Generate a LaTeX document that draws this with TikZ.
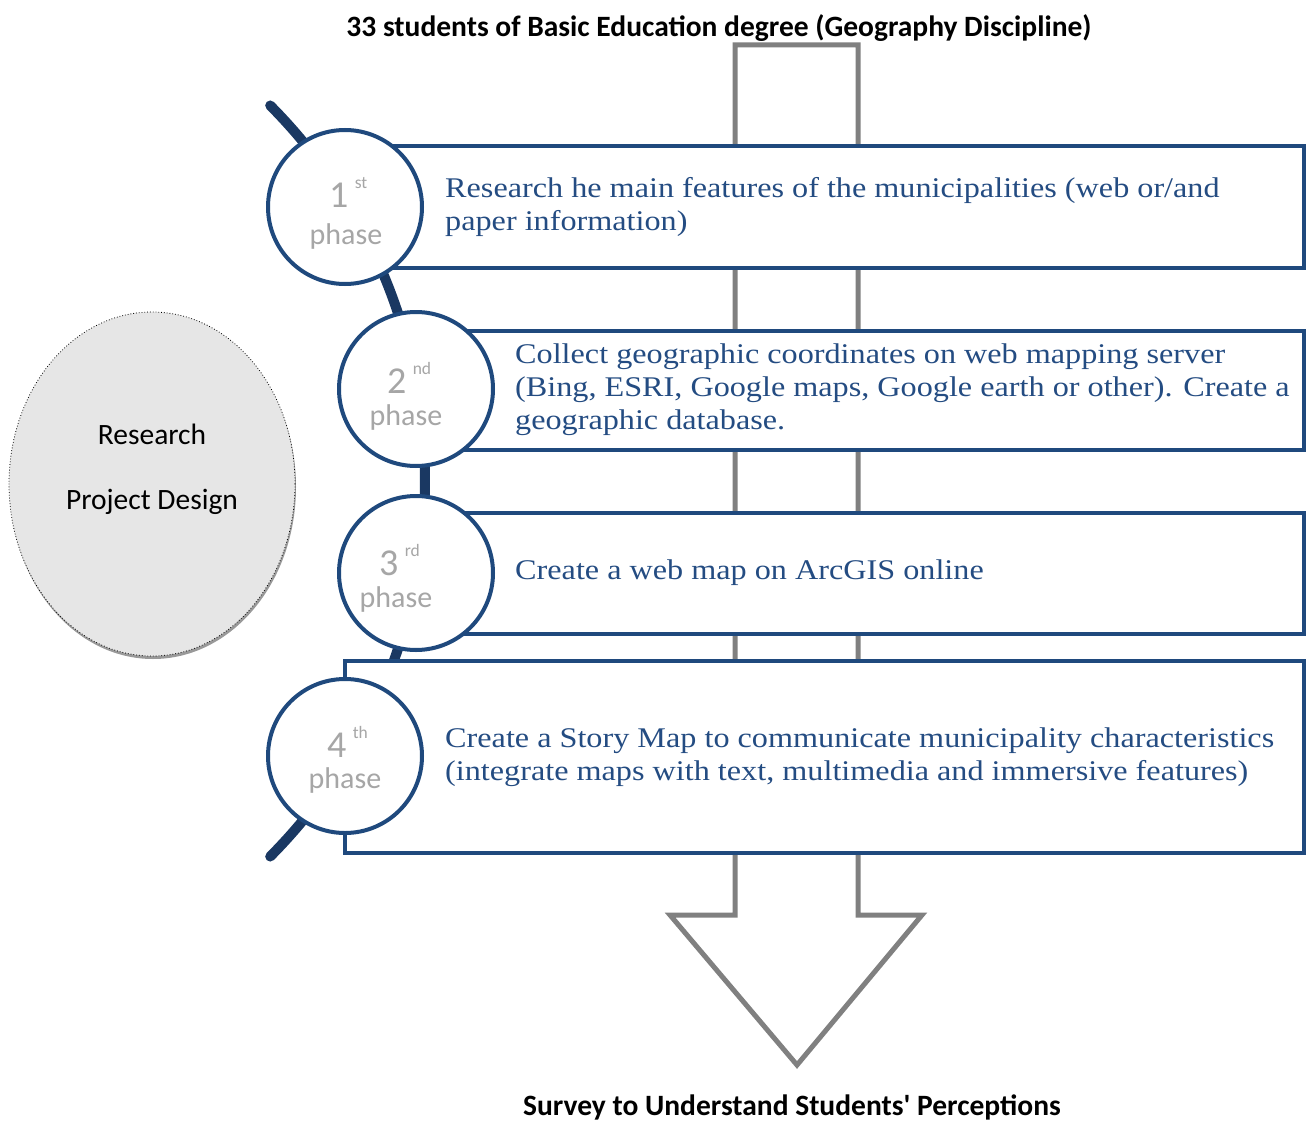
\documentclass[tikz,border=0pt]{standalone}
\usepackage{fontspec}
\setmainfont{Liberation Serif}
\newfontfamily\boxfont[FakeStretch=1.13]{Liberation Serif}
\newfontfamily\calib{Carlito}
\usetikzlibrary{shapes.geometric}
\definecolor{boxblue}{RGB}{31,73,125}
\definecolor{spinecol}{RGB}{26,56,98}
\definecolor{txtblue}{RGB}{36,76,130}
\definecolor{phasegray}{RGB}{166,166,166}
\definecolor{arrowgray}{RGB}{128,128,128}
\definecolor{ellfill}{RGB}{230,230,230}
\newcommand{\phsup}[1]{\,\raisebox{19pt}{\fontsize{17.5}{18}\selectfont #1}}
\begin{document}
\begin{tikzpicture}[x=1pt,y=-1pt,
  stepbox/.style={draw=boxblue,line width=4pt,fill=white,rectangle,inner sep=0pt,outer sep=0pt},
  phasecirc/.style={draw=boxblue,line width=4pt,fill=white,circle,minimum size=154pt,inner sep=0pt},
  boxtext/.style={anchor=west,inner sep=0pt,align=left,text=txtblue,font=\boxfont\fontsize{28.5}{33}\selectfont},
  numtext/.style={anchor=base west,inner sep=0pt,text=phasegray,font=\calib\fontsize{38}{40}\selectfont},
  phtext/.style={inner sep=0pt,text=phasegray,font=\calib\fontsize{30}{32}\selectfont},
  titletext/.style={inner sep=0pt,font=\calib\bfseries\fontsize{29.5}{32}\selectfont},
  elltext/.style={inner sep=0pt,font=\calib\fontsize{29.5}{32}\selectfont}]
\useasboundingbox (0,0) rectangle (1307,1124);

% big gray arrow
\draw[arrowgray,line width=5pt,fill=white,line join=miter]
  (735,45) -- (858,45) -- (858,915) -- (922,915) -- (797,1065) -- (670,915) -- (735,915) -- cycle;

% spine arc
\draw[spinecol,line width=10pt,line cap=round]
  ([shift={(-108,481)}]-44.8:533) arc[start angle=-44.8,end angle=44.8,radius=533];

% boxes
\node[stepbox,minimum width=924pt,minimum height=122pt] (b1) at (842,207) {};
\node[stepbox,minimum width=844pt,minimum height=119pt] (b2) at (882,390.5) {};
\node[stepbox,minimum width=844pt,minimum height=121pt] (b3) at (882,573.5) {};
\node[stepbox,minimum width=959pt,minimum height=192pt] (b4) at (824.5,757) {};

% box texts
\node[boxtext] (t1) at (445,207) {Research he main features of the municipalities (web or/and\\paper information)};
\node[boxtext] (t2) at (515,390) {Collect geographic coordinates on web mapping server\\(Bing, ESRI, Google maps, Google earth or other). Create a\\geographic database.};
\node[boxtext] (t3) at (515,573) {Create a web map on ArcGIS online};
\node[boxtext] (t4) at (445,757) {Create a Story Map to communicate municipality characteristics\\(integrate maps with text, multimedia and immersive features)};

% circles
\node[phasecirc] (c1) at (345,207) {};
\node[phasecirc] (c2) at (416,389) {};
\node[phasecirc] (c3) at (416,573) {};
\node[phasecirc] (c4) at (345,756) {};

\node[numtext] (n1) at (329,207) {1\phsup{st}};
\node[phtext] (p1) at (346,236) {phase};
\node[numtext] (n2) at (387,393) {2\phsup{nd}};
\node[phtext] (p2) at (406,417) {phase};
\node[numtext] (n3) at (379,575) {3\phsup{rd}};
\node[phtext] (p3) at (396,599) {phase};
\node[numtext] (n4) at (327,757) {4\phsup{th}};
\node[phtext] (p4) at (345,780) {phase};

% ellipse
\node[ellipse,fill=black!40,minimum width=286pt,minimum height=344pt,inner sep=0pt] (esh) at (153,487) {};
\node[ellipse,draw=black,dotted,line width=0.8pt,fill=ellfill,minimum width=286pt,minimum height=344pt,inner sep=0pt] (ell) at (152,484) {};
\node[elltext] (e1) at (152,434) {Research};
\node[elltext] (e2) at (152,502) {Project Design};

% titles
\node[titletext] (top) at (719,28) {33 students of Basic Education degree (Geography Discipline)};
\node[titletext] (bot) at (792,1107) {Survey to Understand Students' Perceptions};
\end{tikzpicture}
\end{document}
